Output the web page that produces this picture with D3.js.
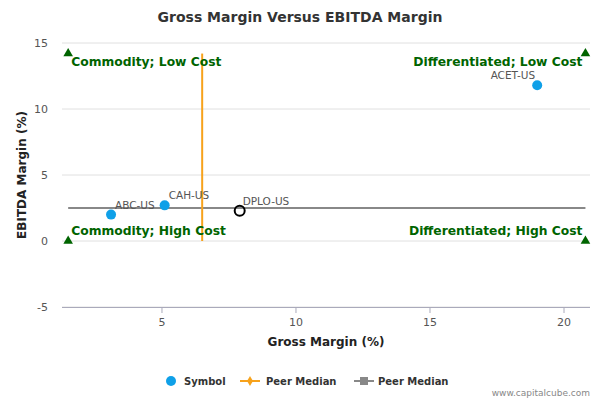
<!DOCTYPE html><html><head><meta charset="utf-8"><script src="https://cdn.jsdelivr.net/npm/d3@7"></script>
<style>body{margin:0}svg{font-family:"DejaVu Sans",sans-serif}</style></head><body><svg width="600" height="400"></svg>
<script>
const symbols=["ACET-US","CAH-US","ABC-US","DPLO-US"];
const grossMargin=[19.0,5.1,3.1,7.9];
const ebitdaMargin=[11.8,2.7,2.0,2.3];
const medianX=6.5, medianY=2.5;
const xTicks=[5,10,15,20], yTicks=[-5,0,5,10,15];
const quadrants=[{t:"Commodity; Low Cost",x:1.5,y:14.2,a:"start"},{t:"Differentiated; Low Cost",x:20.8,y:14.2,a:"end"},{t:"Commodity; High Cost",x:1.5,y:0,a:"start"},{t:"Differentiated; High Cost",x:20.8,y:0,a:"end"}];
const svg=d3.select("svg");
const x=d3.scaleLinear().domain([1.27,20.97]).range([62,590]);
const y=d3.scaleLinear().domain([-5,15]).range([307,43]);
svg.append("text").attr("x",300).attr("y",22).attr("text-anchor","middle").attr("font-size",14).attr("font-weight","bold").attr("fill","#333").text("Gross Margin Versus EBITDA Margin");
yTicks.forEach(t=>{svg.append("line").attr("x1",62).attr("x2",590).attr("y1",y(t)).attr("y2",y(t)).attr("stroke","#e0e0e0");
svg.append("text").attr("x",48).attr("y",y(t)+4).attr("text-anchor","end").attr("font-size",11).attr("fill","#555").text(t);});
svg.append("line").attr("x1",62).attr("x2",590).attr("y1",307.5).attr("y2",307.5).attr("stroke","#aab");
xTicks.forEach(t=>{svg.append("line").attr("x1",x(t)).attr("x2",x(t)).attr("y1",307).attr("y2",313).attr("stroke","#aab");
svg.append("text").attr("x",x(t)).attr("y",326).attr("text-anchor","middle").attr("font-size",11).attr("fill","#555").text(t);});
svg.append("text").attr("x",326).attr("y",346).attr("text-anchor","middle").attr("font-size",12).attr("font-weight","bold").attr("fill","#222").text("Gross Margin (%)");
svg.append("text").attr("transform","translate(26,175) rotate(-90)").attr("text-anchor","middle").attr("font-size",12).attr("font-weight","bold").attr("fill","#222").text("EBITDA Margin (%)");
svg.append("line").attr("x1",x(1.5)).attr("x2",x(20.8)).attr("y1",y(medianY)).attr("y2",y(medianY)).attr("stroke","#888").attr("stroke-width",2);
svg.append("line").attr("x1",x(medianX)).attr("x2",x(medianX)).attr("y1",y(0)).attr("y2",y(14.2)).attr("stroke","#f7a21b").attr("stroke-width",2);
quadrants.forEach(q=>{svg.append("path").attr("d",d3.symbol(d3.symbolTriangle,40)()).attr("transform",`translate(${x(q.x)},${y(q.y)})`).attr("fill","#006400");
svg.append("text").attr("x",q.a=="start"?x(q.x)+3:x(q.x)-3).attr("y",y(q.y)-6+(q.y>0?18:0)).attr("text-anchor",q.a).attr("font-size",12.3).attr("font-weight","bold").attr("fill","#006400").text(q.t);});
symbols.forEach((s,i)=>{const hollow=s=="DPLO-US";
svg.append("circle").attr("cx",x(grossMargin[i])).attr("cy",y(ebitdaMargin[i])).attr("r",5).attr("fill",hollow?"none":"#0fa0e8").attr("stroke",hollow?"#000":"none").attr("stroke-width",2);
svg.append("text").attr("x",x(grossMargin[i])+(hollow?3:(s=="ACET-US"?-2:4))).attr("y",y(ebitdaMargin[i])-6).attr("text-anchor",s=="ACET-US"?"end":"start").attr("font-size",10.5).attr("fill","#555").text(s);});
const lg=svg.append("g");
lg.append("circle").attr("cx",171).attr("cy",381).attr("r",5).attr("fill","#0fa0e8");
lg.append("text").attr("x",184).attr("y",385).attr("font-size",10).attr("font-weight","bold").attr("fill","#333").text("Symbol");
lg.append("line").attr("x1",240).attr("x2",260).attr("y1",381).attr("y2",381).attr("stroke","#f7a21b").attr("stroke-width",2);
lg.append("path").attr("d",d3.symbol(d3.symbolDiamond,30)()).attr("transform","translate(250,381)").attr("fill","#f7a21b");
lg.append("text").attr("x",266).attr("y",385).attr("font-size",10).attr("font-weight","bold").attr("fill","#333").text("Peer Median");
lg.append("line").attr("x1",354).attr("x2",374).attr("y1",381).attr("y2",381).attr("stroke","#888").attr("stroke-width",2);
lg.append("rect").attr("x",360).attr("y",377).attr("width",8).attr("height",8).attr("fill","#888");
lg.append("text").attr("x",378).attr("y",385).attr("font-size",10).attr("font-weight","bold").attr("fill","#333").text("Peer Median");
svg.append("text").attr("x",590).attr("y",396).attr("text-anchor","end").attr("font-size",9).attr("fill","#888").text("www.capitalcube.com");
</script></body></html>
